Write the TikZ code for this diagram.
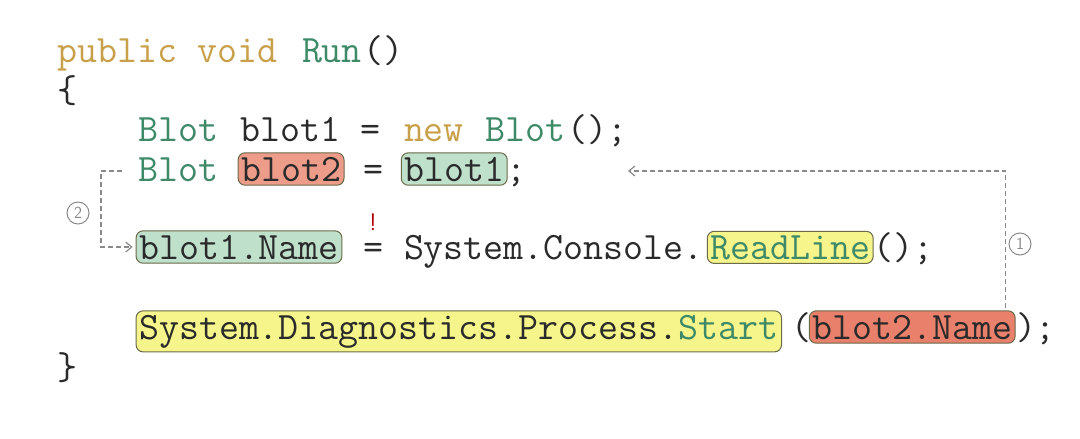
\documentclass[tikz,border=0pt]{standalone}
\usetikzlibrary{calc,arrows.meta}
\definecolor{kw}{HTML}{C9A04A}
\definecolor{ty}{HTML}{3E8A68}
\definecolor{tx}{HTML}{2A2A2A}
\definecolor{gfill}{HTML}{BFE0CB}
\definecolor{rfill}{HTML}{EE9C8A}
\definecolor{rfill2}{HTML}{E8806C}
\definecolor{yfill}{HTML}{F6F58C}
\definecolor{bord}{HTML}{6A6A4A}
\definecolor{arr}{HTML}{8A8A8A}
\tikzset{
  code/.style={font=\ttfamily\fontsize{38.8}{44}\selectfont, inner sep=0pt, anchor=base west, text=tx},
  hbox/.style={code, draw=bord, line width=1pt, rounded corners=7pt, inner xsep=3pt, inner ysep=4pt},
  gbox/.style={hbox, fill=gfill},
  rbox/.style={hbox, fill=rfill},
  rbox2/.style={hbox, fill=rfill2},
  ybox/.style={hbox, fill=yfill},
  flow/.style={draw=arr, dash pattern=on 5pt off 3pt, line width=1.2pt, -{Straight Barb[length=6pt,width=10pt]}},
  num/.style={circle, draw=arr, line width=1pt, text=arr, font=\sffamily\fontsize{17}{17}\selectfont, inner sep=1pt, minimum size=22pt}
}
\newcommand{\cx}[1]{57+#1*20.4}
\begin{document}
\begin{tikzpicture}[x=1pt,y=-1pt]
\useasboundingbox (0,0) rectangle (1080,439);
% row 1
\node[code,text=kw] (pub) at ({\cx{0}},62) {public void};
\node[code,text=ty] (run) at ({\cx{12}},62) {Run};
\node[code] (runp) at ({\cx{15}},62) {()};
\node[code] (ob) at ({\cx{0}},102) {\{};
% row 3
\node[code,text=ty] (t3) at ({\cx{4}},141) {Blot};
\node[code] (v3) at ({\cx{9}},141) {blot1 =};
\node[code,text=kw] (n3) at ({\cx{17}},141) {new};
\node[code,text=ty] (t3b) at ({\cx{21}},141) {Blot};
\node[code] (e3) at ({\cx{25}},141) {();};
% row 4
\node[code,text=ty] (t4) at ({\cx{4}},181) {Blot};
\node[rbox] (b2) at ({\cx{9}-3},181) {blot2};
\node[code] (eq4) at ({\cx{15}},181) {=};
\node[gbox] (b1) at ({\cx{17}-3},181) {blot1};
\node[code] (sc4) at ({\cx{22}},181) {;};
% row 5
\node[gbox] (b1n) at ({\cx{4}-3},259) {blot1.Name};
\node[code] (eq5) at ({\cx{15}},259) {=};
\node[text=red!70!black,font=\sffamily\fontsize{24}{24}\selectfont, inner sep=0pt] (bang) at ({\cx{15}+10},222) {!};
\node[code] (sys) at ({\cx{17}},259) {System.Console.};
\node[ybox,text=ty] (rl) at ({\cx{32}-3},259) {ReadLine};
\node[code] (e5) at ({\cx{40}},259) {();};
% row 6
\node[ybox,text=tx] (dg) at ({\cx{4}-3},339) {System.Diagnostics.Process.\textcolor{ty}{Start}};
\node[code] (po) at ({\cx{36}},339) {(};
\node[rbox2] (b2n) at ({\cx{37}-3},339) {blot2.Name};
\node[code] (e6) at ({\cx{47}},339) {);};
\node[code] (cb) at ({\cx{0}},379) {\}};
% arrows
\coordinate (a1s) at ($(b2n.north east)+(-10,-2)$);
\coordinate (a1e) at (628,171);
\draw[flow] (a1s) |- (a1e);
\node[num] (n1) at (1020,244) {1};
\coordinate (a2s) at (122,171);
\coordinate (a2c) at (101,171);
\draw[flow] (a2s) -- (a2c) |- ($(b1n.west)+(-3,0)$);
\node[num] (n2) at (78,213) {2};
\end{tikzpicture}
\end{document}
